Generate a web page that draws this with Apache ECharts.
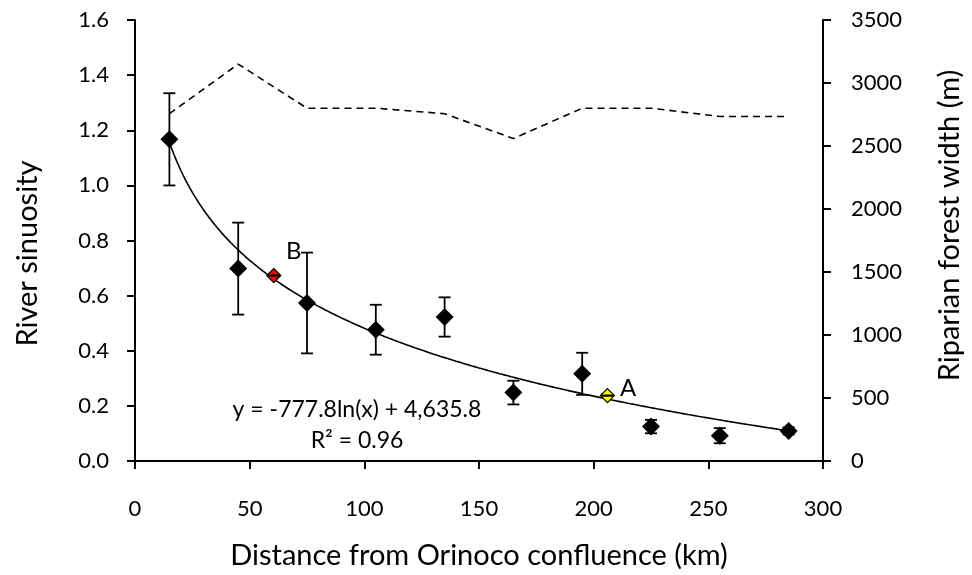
<!DOCTYPE html>
<html>
<head>
<meta charset="utf-8">
<script src="https://cdn.jsdelivr.net/npm/echarts@6/dist/echarts.min.js"></script>
<style>
html,body{margin:0;padding:0;background:#fff;}
#chart{width:972px;height:575px;}
</style>
</head>
<body>
<div id="chart"></div>
<script>
// ---- data ----
var distance = [15, 45, 75, 105, 135, 165, 195, 225, 255, 285];
var forestWidth = [2553, 1527, 1254, 1042, 1143, 543, 692, 273, 201, 239];
var forestErr = [366, 365, 400, 198, 156, 94, 167, 53, 60, 28];
var sinuosity = [1.26, 1.44, 1.28, 1.28, 1.26, 1.17, 1.28, 1.28, 1.25, 1.25];
var pointA = [206, 519];
var pointB = [60.5, 1472];
var trendCoef = [-777.8, 4635.8]; // y = a*ln(x) + b, as printed on the chart
var trendRange = [15, 285];
var xTicks = [0, 50, 100, 150, 200, 250, 300];
var leftTicks = [0, 0.2, 0.4, 0.6, 0.8, 1.0, 1.2, 1.4, 1.6];
var rightTicks = [0, 500, 1000, 1500, 2000, 2500, 3000, 3500];

var FONT = 'Lato';

var widthPts = distance.map(function (d, i) { return [d, forestWidth[i]]; });
var sinPts = distance.map(function (d, i) { return [d, sinuosity[i]]; });
var errPts = distance.map(function (d, i) { return [d, forestWidth[i] - forestErr[i], forestWidth[i] + forestErr[i]]; });
errPts.push([pointA[0], pointA[1], pointA[1]]);
errPts.push([pointB[0], pointB[1], pointB[1]]);
var trendPts = [];
for (var x = trendRange[0]; x <= trendRange[1]; x += 1) {
  trendPts.push([x, trendCoef[0] * Math.log(x) + trendCoef[1]]);
}

var chart = echarts.init(document.getElementById('chart'));
var axisLine = { show: true, lineStyle: { color: '#000', width: 2 } };
var axisTick = { show: true, length: 8, inside: false, lineStyle: { color: '#000', width: 2 } };
var labelStyle = { color: '#000', fontFamily: FONT, fontSize: 22 };
function nameStyle(pad) { return { color: '#000', fontFamily: FONT, fontSize: 29, padding: pad }; }

chart.setOption({
  animation: false,
  grid: { left: 135, right: 143, top: 20, bottom: 114 },
  xAxis: {
    type: 'value', min: xTicks[0], max: xTicks[xTicks.length - 1], interval: 50,
    name: 'Distance from Orinoco confluence (km)', nameLocation: 'middle', nameGap: 80,
    nameTextStyle: nameStyle([0, 0, 0, 0]),
    axisLine: axisLine, axisTick: axisTick, splitLine: { show: false },
    axisLabel: Object.assign({ margin: 37 }, labelStyle)
  },
  yAxis: [{
    type: 'value', min: leftTicks[0], max: leftTicks[leftTicks.length - 1], interval: 0.2,
    name: 'River sinuosity', nameLocation: 'middle', nameGap: 93, nameRotate: 90,
    nameTextStyle: nameStyle([0, 26, 0, 0]),
    axisLine: axisLine, axisTick: axisTick, splitLine: { show: false },
    axisLabel: Object.assign({ margin: 26, formatter: function (v) { return v.toFixed(1); } }, labelStyle)
  }, {
    type: 'value', position: 'right', min: rightTicks[0], max: rightTicks[rightTicks.length - 1], interval: 500,
    name: 'Riparian forest width (m)', nameLocation: 'middle', nameGap: 112, nameRotate: 90,
    nameTextStyle: nameStyle([0, 0, 0, 30]),
    axisLine: axisLine, axisTick: axisTick, splitLine: { show: false },
    axisLabel: Object.assign({ margin: 28, formatter: function (v) { return String(v); } }, labelStyle)
  }],
  series: [{
    type: 'line', yAxisIndex: 0, data: sinPts, symbol: 'none',
    lineStyle: { color: '#000', width: 1.6, type: [7, 5] }, z: 2
  }, {
    type: 'line', yAxisIndex: 1, data: trendPts, symbol: 'none',
    lineStyle: { color: '#000', width: 1.6 }, z: 2
  }, {
    type: 'custom', yAxisIndex: 1, data: errPts, z: 5,
    renderItem: function (params, api) {
      var x = api.value(0);
      var lo = api.coord([x, api.value(1)]);
      var hi = api.coord([x, api.value(2)]);
      var hw = 6;
      var st = { stroke: '#000', lineWidth: 1.8 };
      return {
        type: 'group', children: [
          { type: 'line', shape: { x1: lo[0], y1: lo[1], x2: hi[0], y2: hi[1] }, style: st },
          { type: 'line', shape: { x1: lo[0] - hw, y1: lo[1], x2: lo[0] + hw, y2: lo[1] }, style: st },
          { type: 'line', shape: { x1: hi[0] - hw, y1: hi[1], x2: hi[0] + hw, y2: hi[1] }, style: st }
        ]
      };
    }
  }, {
    type: 'scatter', yAxisIndex: 1, data: widthPts, symbol: 'diamond', symbolSize: 18,
    itemStyle: { color: '#000', opacity: 1 }, z: 4
  }, {
    type: 'scatter', yAxisIndex: 1, data: [pointB], symbol: 'diamond', symbolSize: 14,
    itemStyle: { color: '#ff0000', borderColor: '#000', borderWidth: 1.2, opacity: 1 }, z: 4,
    label: { show: true, formatter: 'B', position: 'top', offset: [20, 0], color: '#000', fontFamily: FONT, fontSize: 24 }
  }, {
    type: 'scatter', yAxisIndex: 1, data: [pointA], symbol: 'diamond', symbolSize: 14,
    itemStyle: { color: '#ffff00', borderColor: '#000', borderWidth: 1.2, opacity: 1 }, z: 4,
    label: { show: true, formatter: 'A', position: 'right', offset: [0, -7], color: '#000', fontFamily: FONT, fontSize: 24 }
  }],
  graphic: [{
    type: 'text', x: 357, y: 410, silent: true,
    style: { text: 'y = -777.8ln(x) + 4,635.8', fill: '#000', font: '23px ' + FONT, align: 'center', verticalAlign: 'middle' }
  }, {
    type: 'text', x: 357, y: 441, silent: true,
    style: { text: 'R\u00b2 = 0.96', fill: '#000', font: '23px ' + FONT, align: 'center', verticalAlign: 'middle' }
  }]
});
</script>
</body>
</html>
